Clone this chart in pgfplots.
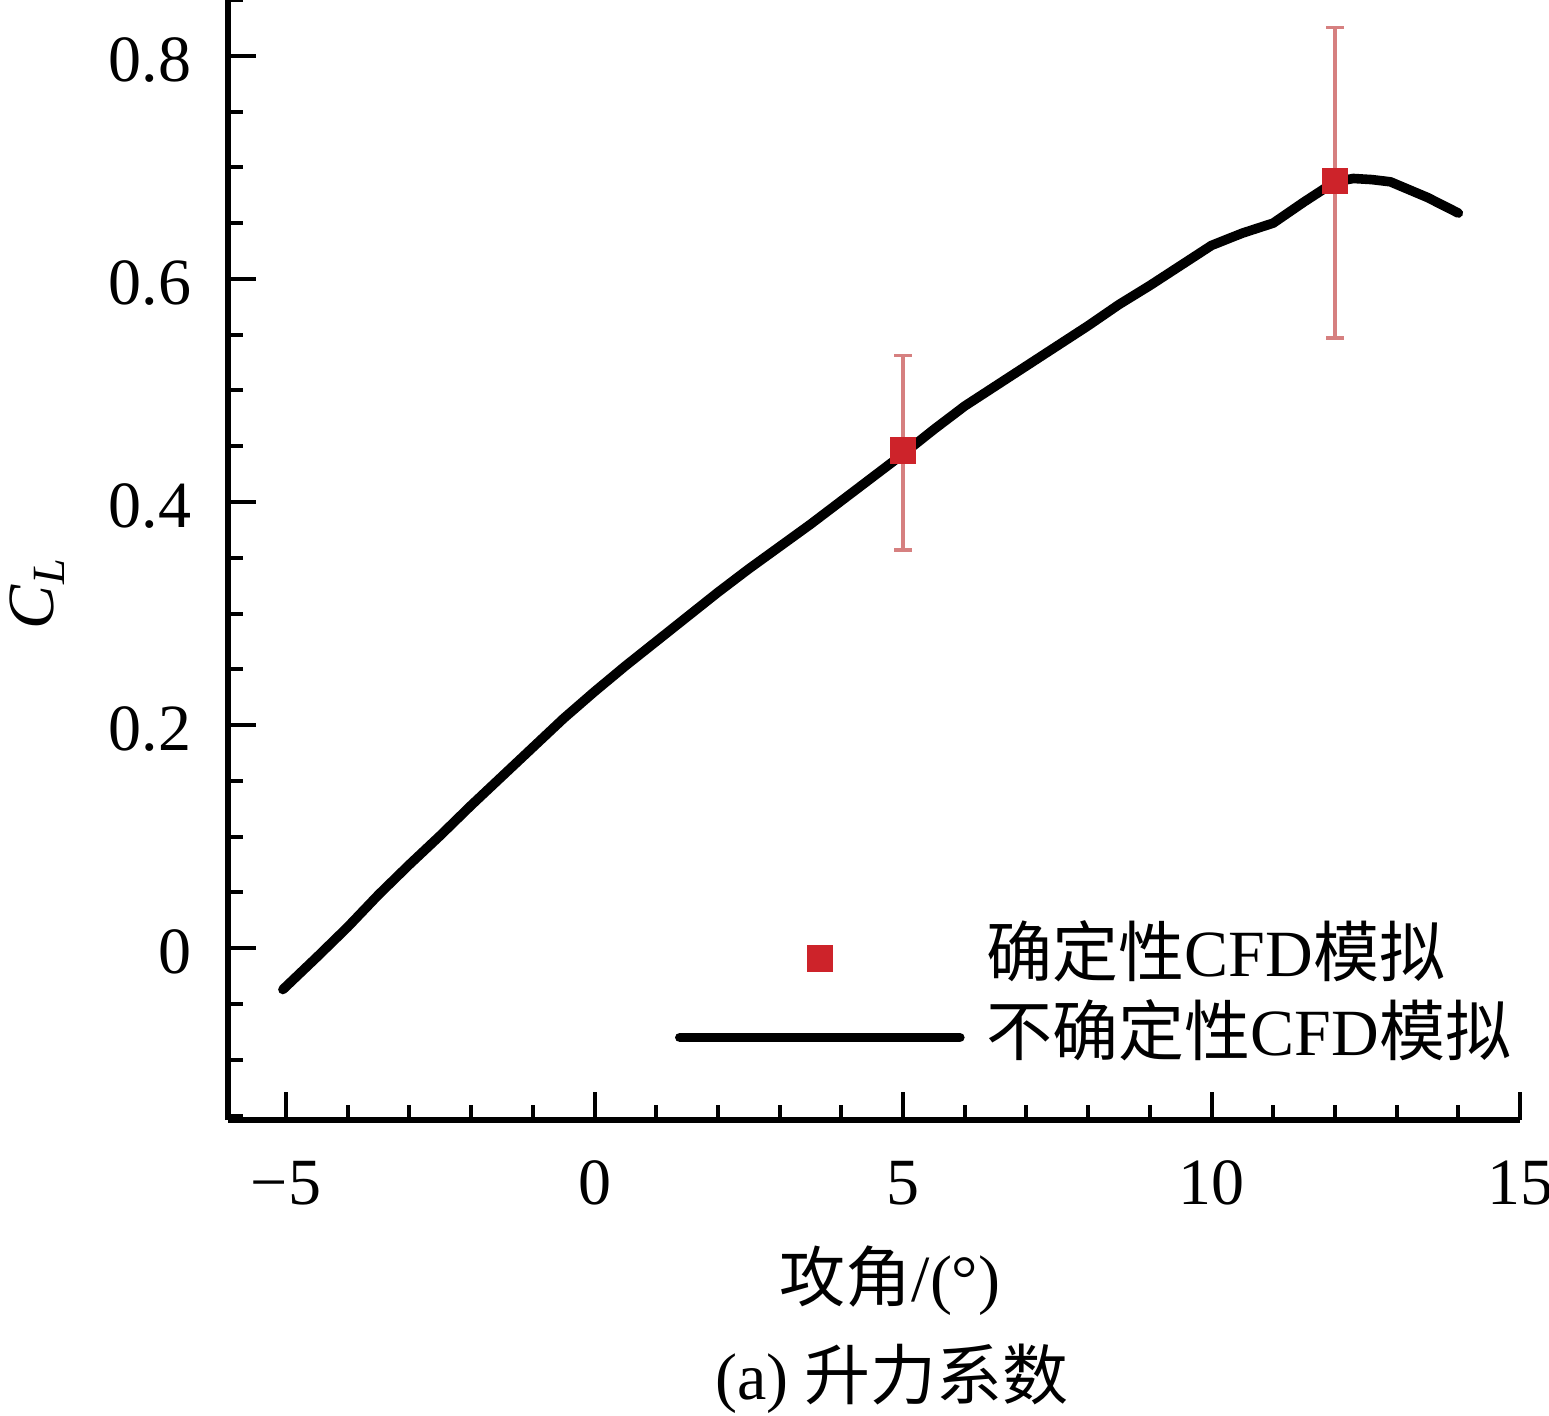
\documentclass[border=0pt]{standalone}
\usepackage{fontspec}
\setmainfont{Liberation Serif}
\newfontfamily\cjk{Noto Sans CJK SC}
\usepackage{pgfplots}
\pgfplotsset{compat=1.18}
\definecolor{sqc}{RGB}{205,35,42}
\definecolor{errc}{RGB}{214,128,128}
\begin{document}
\fontsize{16.5pt}{19pt}\selectfont
\begin{tikzpicture}
\begin{axis}[
  scale only axis, width=323pt, height=280pt,
  xmin=-5.94, xmax=15, ymin=-0.154, ymax=0.85,
  axis x line*=bottom, axis y line*=left,
  axis line style={-, line width=1.3pt},
  xtick={-5,0,5,10,15}, xticklabels={−5,0,5,10,15},
  minor xtick={-4,-3,-2,-1,1,2,3,4,6,7,8,9,11,12,13,14},
  ytick={0,0.2,0.4,0.6,0.8}, yticklabels={0,0.2,0.4,0.6,0.8},
  minor ytick={-0.15,-0.1,-0.05,0.05,0.1,0.15,0.25,0.3,0.35,0.45,0.5,0.55,0.65,0.7,0.75,0.85},
  tick align=inside, major tick length=7pt, minor tick length=3.75pt,
  tick style={black, line width=1pt},
  xticklabel style={anchor=base, inner sep=0pt, yshift=-21pt, font=\fontsize{16.5pt}{19pt}\selectfont},
  yticklabel style={anchor=east, inner sep=0pt, xshift=-9pt, yshift=-1pt, font=\fontsize{16.5pt}{19pt}\selectfont},
  xlabel={{\cjk 攻角}/(°)},
  xlabel style={at={(rel axis cs:0.5,0)}, anchor=base, inner sep=0pt, yshift=-45.25pt, xshift=4pt, font=\fontsize{16.5pt}{19pt}\selectfont},
  ylabel={\textit{C}\textsubscript{\textit{L}}},
  ylabel style={at={(rel axis cs:0,0.4705)}, anchor=center, inner sep=0pt, yshift=47.75pt, font=\fontsize{16.5pt}{19pt}\selectfont},
  legend style={draw=none, fill=none, at={(rel axis cs:0.3460,0.171)}, anchor=north west,
    inner sep=0pt, outer sep=0pt, row sep=4.75pt, column sep=5.5pt,
    nodes={inner sep=0pt, text height=12pt, text depth=3pt, anchor=west},
    font=\fontsize{16.5pt}{19pt}\selectfont},
  legend cell align=left,
  clip=false,
]
\addplot[only marks, mark=square*, mark size=3.1pt, mark options={fill=sqc, draw=sqc},
  error bars/.cd, y dir=both, y explicit,
  error bar style={line width=0.8pt, color=errc},
  error mark options={line width=0.8pt, color=errc, mark size=2.2pt, rotate=90},
  /pgfplots/legend image code/.code={\path[draw=none] (0pt,0pt) -- (70pt,0pt);
     \path[draw=none] plot[mark=square*, mark size=3.1pt, mark options={fill=sqc, draw=sqc}] coordinates {(35pt,0pt)};},
  ]
  coordinates {
  (5,0.446) += (0,0.085) -= (0,0.089)
  (12,0.688) += (0,0.137) -= (0,0.141)
  };
\addlegendentry{{\cjk 确定性}CFD{\cjk 模拟}}
\addplot[black, line width=2.4pt, line join=round, line cap=round,
  legend image code/.code={\draw[black, line width=2.4pt] (0pt,0pt) -- (70pt,0pt);}]
  coordinates {
  (-5.05,-0.037) (-4.5,-0.008) (-4,0.019) (-3.5,0.048) (-3,0.075) (-2.5,0.101)
  (-2,0.128) (-1.5,0.154) (-1,0.180) (-0.5,0.206) (0,0.230) (0.5,0.253)
  (1,0.275) (1.5,0.297) (2,0.319) (2.5,0.340) (3,0.360) (3.5,0.380)
  (4,0.401) (4.5,0.422) (5,0.443) (5.5,0.465) (6,0.486) (6.5,0.504)
  (7,0.522) (7.5,0.540) (8,0.558) (8.5,0.577) (9,0.594) (9.5,0.612)
  (10,0.630) (10.5,0.641) (11,0.650) (11.5,0.669) (12,0.687) (12.3,0.690)
  (12.6,0.689) (12.9,0.687) (13.5,0.673) (14,0.659)
  };
\addlegendentry{{\cjk 不确定性}CFD{\cjk 模拟}}
\coordinate (sw) at (rel axis cs:0,0);
\coordinate (ne) at (rel axis cs:1,1);
\node[anchor=base, inner sep=0pt, xshift=4.5pt, yshift=-69.75pt] at (rel axis cs:0.5,0) {(a) {\cjk 升力系数}};
\end{axis}
\pgfresetboundingbox
\path[use as bounding box] ([xshift=-57pt,yshift=-73.75pt]sw) rectangle ([xshift=7.25pt]ne);
\end{tikzpicture}
\end{document}
